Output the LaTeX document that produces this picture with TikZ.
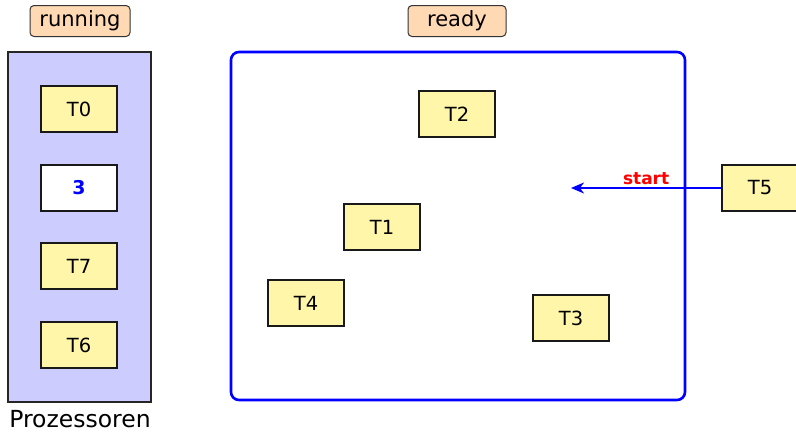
\documentclass[tikz,border=0pt]{standalone}
\usepackage{fontspec}
\setmainfont{DejaVu Sans}
\usetikzlibrary{arrows.meta}
\definecolor{peach}{RGB}{255,217,179}
\definecolor{procfill}{RGB}{204,204,255}
\definecolor{taskfill}{RGB}{255,246,170}
\tikzset{
  tagbox/.style={draw=black!80, fill=peach, rounded corners=4pt, line width=1pt, minimum width=#1, minimum height=31pt, inner sep=0pt, font=\fontsize{21}{24}\selectfont},
  taskbox/.style={draw=black!90, fill=taskfill, line width=1.5pt, minimum width=76pt, minimum height=46pt, inner sep=0pt, font=\fontsize{19.5}{22}\selectfont},
}
\begin{document}
\begin{tikzpicture}[x=1pt,y=-1pt]
\useasboundingbox (0,0) rectangle (796,432);
% running
\node[tagbox=100pt] (running) at (80,21) {running};
\node[draw=black!85, fill=procfill, line width=1.3pt, minimum width=143pt, minimum height=350pt, inner sep=0pt] (proc) at (79.5,227) {};
\node[taskbox] (t0) at (79,109) {T0};
\node[taskbox, fill=white, text=blue, font=\fontsize{19}{22}\selectfont\bfseries] (three) at (79,188) {3};
\node[taskbox] (t7) at (79,266) {T7};
\node[taskbox] (t6) at (79,345) {T6};
\node[font=\fontsize{23.5}{27}\selectfont] (prozessoren) at (80,419) {Prozessoren};
% ready
\node[tagbox=98pt] (readylabel) at (457,21) {ready};
\node[draw=blue, line width=2.6pt, rounded corners=8pt, minimum width=454pt, minimum height=348pt, inner sep=0pt] (ready) at (458,226) {};
\node[taskbox] (t2) at (457,114) {T2};
\node[taskbox] (t1) at (382,227) {T1};
\node[taskbox] (t4) at (306,303) {T4};
\node[taskbox] (t3) at (571,318) {T3};
\node[taskbox] (t5) at (760,188) {T5};
\coordinate (starttip) at (571,188);
\draw[blue, line width=2.2pt, -{Stealth[length=13pt,width=11pt,inset=4pt]}] (t5.west) -- node[above, pos=0.5, text=red, font=\fontsize{17}{20}\selectfont\bfseries, inner sep=2pt] (startlabel) {start} (starttip);
\end{tikzpicture}
\end{document}
